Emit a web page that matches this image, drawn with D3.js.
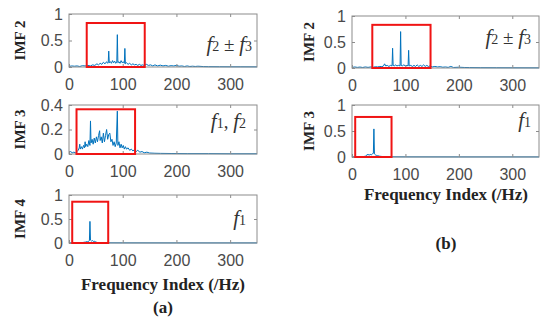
<!DOCTYPE html>
<html>
<head>
<meta charset="utf-8">
<script src="https://cdn.jsdelivr.net/npm/d3@7"></script>
<style>
  body { margin: 0; background: #fff; }
  svg { display: block; }
</style>
</head>
<body>
<div id="chart"></div>
<script>
// spectra: frequency index (Hz) and amplitude
const a2Freq = [0,5,10,15,20,25,30,35,40,44,48,52,55,58,61,64,67,70,72,73,74,75,77,79,81,83,85,87,89,90,91,93,95,97,99,101,103,104,105,107,110,113,116,119,122,125,128,131,134,137,140,144,148,152,156,160,165,170,175,180,185,190,195,200,205,210,215,220,225,230,235,240,250,260,280,300,320,350];
const a2Amp  = [0.01,0.02,0.015,0.02,0.01,0.025,0.02,0.03,0.02,0.04,0.03,0.06,0.04,0.07,0.05,0.09,0.06,0.1,0.07,0.08,0.30,0.08,0.1,0.07,0.12,0.08,0.11,0.07,0.09,0.61,0.08,0.1,0.07,0.12,0.08,0.1,0.07,0.35,0.06,0.08,0.05,0.07,0.04,0.06,0.04,0.05,0.03,0.05,0.03,0.04,0.03,0.05,0.03,0.04,0.02,0.04,0.02,0.035,0.02,0.03,0.015,0.025,0.02,0.03,0.015,0.02,0.01,0.02,0.01,0.015,0.01,0.015,0.008,0.006,0.005,0.004,0.004,0.003];

const a3Freq = [0,3,6,9,12,15,17,19,20,21,23,25,27,29,30,31,33,35,37,39,40,41,43,45,47,49,51,53,55,57,58,60,62,64,66,68,70,72,74,76,78,80,82,84,86,88,90,91,93,95,97,99,101,103,105,107,110,113,116,119,122,125,128,132,136,140,145,150,160,170,190,220,260,300,350];
const a3Amp  = [0.01,0.02,0.01,0.015,0.01,0.02,0.03,0.05,0.08,0.04,0.06,0.04,0.07,0.05,0.10,0.06,0.08,0.06,0.11,0.07,0.27,0.09,0.12,0.08,0.13,0.09,0.14,0.1,0.15,0.19,0.11,0.14,0.09,0.17,0.1,0.15,0.2,0.12,0.16,0.17,0.1,0.12,0.07,0.1,0.06,0.09,0.35,0.07,0.1,0.05,0.08,0.05,0.07,0.04,0.06,0.04,0.05,0.03,0.04,0.025,0.035,0.02,0.03,0.015,0.02,0.01,0.015,0.008,0.006,0.005,0.004,0.003,0.003,0.002,0.002];

const a4Freq = [0,10,20,25,28,31,33,35,37,38,39,40,42,44,46,48,50,53,58,70,100,200,350];
const a4Amp  = [0.003,0.004,0.005,0.008,0.015,0.02,0.03,0.025,0.04,0.05,0.45,0.06,0.04,0.05,0.03,0.035,0.02,0.01,0.006,0.004,0.003,0.002,0.002];

const b2Freq = [0,5,10,15,20,25,30,35,40,44,48,52,56,59,61,63,66,69,72,75,76,77,79,82,84,87,90,91,92,94,97,100,103,105,106,107,110,113,116,119,122,125,128,131,134,137,140,143,146,150,155,160,165,170,175,180,185,190,200,210,220,240,270,300,350];
const b2Amp  = [0.01,0.02,0.012,0.018,0.01,0.02,0.012,0.02,0.015,0.025,0.02,0.03,0.025,0.04,0.08,0.04,0.05,0.03,0.05,0.04,0.38,0.05,0.04,0.06,0.04,0.05,0.04,0.70,0.05,0.04,0.06,0.04,0.05,0.04,0.34,0.04,0.05,0.03,0.05,0.03,0.06,0.03,0.05,0.03,0.06,0.03,0.05,0.03,0.04,0.02,0.03,0.02,0.025,0.015,0.02,0.012,0.03,0.01,0.015,0.01,0.008,0.006,0.005,0.004,0.003];

const b3Freq = [0,10,20,25,28,30,32,34,36,38,40,41,42,44,46,48,52,56,62,75,100,200,350];
const b3Amp  = [0.003,0.004,0.006,0.015,0.04,0.05,0.035,0.05,0.04,0.06,0.07,0.54,0.06,0.04,0.03,0.025,0.015,0.01,0.006,0.004,0.003,0.002,0.002];

// highlighted bands: [from Hz, to Hz, top amplitude]
const a2Band = [33, 141, 0.83];
const a3Band = [14, 123, 0.365];
const a4Band = [6, 73, 0.86];
const b2Band = [38, 147, 0.83];
const b3Band = [6, 74, 0.77];

const xTicks = [0, 100, 200, 300];
const yTicksUnit = [0, 0.5, 1];
const yTicksSmall = [0, 0.2, 0.4];

const panels = [
  {freq: a2Freq, amp: a2Amp, band: a2Band, name: "IMF 2", yMax: 1, yTicks: yTicksUnit,
   left: 69, right: 257, top: 14, bottom: 67, labX: 20, note: "pm", noteX: 252, noteY: 51},
  {freq: a3Freq, amp: a3Amp, band: a3Band, name: "IMF 3", yMax: 0.4, yTicks: yTicksSmall,
   left: 69, right: 257, top: 105, bottom: 154, labX: 20, note: "f1f2", noteX: 246, noteY: 128},
  {freq: a4Freq, amp: a4Amp, band: a4Band, name: "IMF 4", yMax: 1, yTicks: yTicksUnit,
   left: 69, right: 257, top: 195, bottom: 243, labX: 20, note: "f1", noteX: 246, noteY: 225},
  {freq: b2Freq, amp: b2Amp, band: b2Band, name: "IMF 2", yMax: 1, yTicks: yTicksUnit,
   left: 352, right: 539, top: 16, bottom: 68, labX: 309, note: "pm", noteX: 531, noteY: 44},
  {freq: b3Freq, amp: b3Amp, band: b3Band, name: "IMF 3", yMax: 1, yTicks: yTicksUnit,
   left: 352, right: 539, top: 105, bottom: 157, labX: 309, note: "f1", noteX: 531, noteY: 127}
];

const width = 550, height = 325;
const svg = d3.select("#chart").append("svg")
  .attr("width", width)
  .attr("height", height);

const serif = "'Liberation Serif', 'DejaVu Serif', serif";
const sans = "'Liberation Sans', Arial, sans-serif";

panels.forEach(p => {
  const x = d3.scaleLinear().domain([0, 350]).range([p.left, p.right]);
  const y = d3.scaleLinear().domain([0, p.yMax]).range([p.bottom, p.top]);
  const g = svg.append("g");

  // spectrum
  const pts = p.freq.map((f, i) => [f, p.amp[i]]);
  g.append("path")
    .datum(pts)
    .attr("fill", "none")
    .attr("stroke", "#0072BD")
    .attr("stroke-width", 1)
    .attr("d", d3.line().x(d => x(d[0])).y(d => y(d[1])));

  // axes, MATLAB style with inward ticks on all four sides
  function style(a) {
    a.select(".domain").remove();
    a.selectAll("line").attr("stroke", "#8c8c8c");
    a.selectAll("text").attr("fill", "#4a4a4a").attr("font-family", sans).attr("font-size", 16);
  }
  g.append("g").attr("transform", `translate(0,${p.bottom})`)
    .call(d3.axisBottom(x).tickValues(xTicks).tickSize(-3).tickPadding(12).tickFormat(d3.format("d")))
    .call(style);
  g.append("g").attr("transform", `translate(0,${p.top})`)
    .call(d3.axisTop(x).tickValues(xTicks.slice(1)).tickSize(-3).tickFormat(""))
    .call(style);
  g.append("g").attr("transform", `translate(${p.left},0)`)
    .call(d3.axisLeft(y).tickValues(p.yTicks).tickSize(-3).tickPadding(6).tickFormat(d => String(d)))
    .call(style);
  g.append("g").attr("transform", `translate(${p.right},0)`)
    .call(d3.axisRight(y).tickValues(p.yTicks.slice(1, -1)).tickSize(-3).tickFormat(""))
    .call(style);

  g.append("rect")
    .attr("x", p.left).attr("y", p.top)
    .attr("width", p.right - p.left).attr("height", p.bottom - p.top)
    .attr("fill", "none").attr("stroke", "#8c8c8c").attr("stroke-width", 1);

  // red highlight box
  g.append("rect")
    .attr("x", x(p.band[0])).attr("y", y(p.band[2]))
    .attr("width", x(p.band[1]) - x(p.band[0]))
    .attr("height", y(0) - y(p.band[2]))
    .attr("fill", "none").attr("stroke", "#f01414").attr("stroke-width", 2);

  // y label
  g.append("text")
    .attr("transform", `translate(${p.labX},${(p.top + p.bottom) / 2}) rotate(-90)`)
    .attr("text-anchor", "middle")
    .attr("dy", "0.35em")
    .attr("font-family", serif).attr("font-weight", "bold").attr("font-size", 15)
    .attr("fill", "#222")
    .text(p.name);

  // frequency annotation
  const t = g.append("text")
    .attr("x", p.noteX).attr("y", p.noteY)
    .attr("text-anchor", "end")
    .attr("font-family", serif).attr("fill", "#333");
  const f = (sub) => {
    t.append("tspan").attr("font-style", "italic").attr("font-size", 21).text("f");
    t.append("tspan").attr("font-size", 14).text(sub);
  };
  if (p.note === "pm") {
    f("2");
    t.append("tspan").attr("font-size", 19).text(" ± ");
    f("3");
  } else if (p.note === "f1f2") {
    f("1");
    t.append("tspan").attr("font-size", 19).text(", ");
    f("2");
  } else {
    f("1");
  }
});

// x titles and panel tags
const titles = [
  {text: "Frequency Index (/Hz)", x: 163, y: 290},
  {text: "(a)", x: 163, y: 313},
  {text: "Frequency Index (/Hz)", x: 446, y: 200},
  {text: "(b)", x: 446, y: 249}
];
svg.selectAll(".title").data(titles).join("text")
  .attr("class", "title")
  .attr("x", d => d.x).attr("y", d => d.y)
  .attr("text-anchor", "middle")
  .attr("font-family", serif).attr("font-weight", "bold").attr("font-size", 17)
  .attr("fill", "#222")
  .text(d => d.text);
</script>
</body>
</html>
